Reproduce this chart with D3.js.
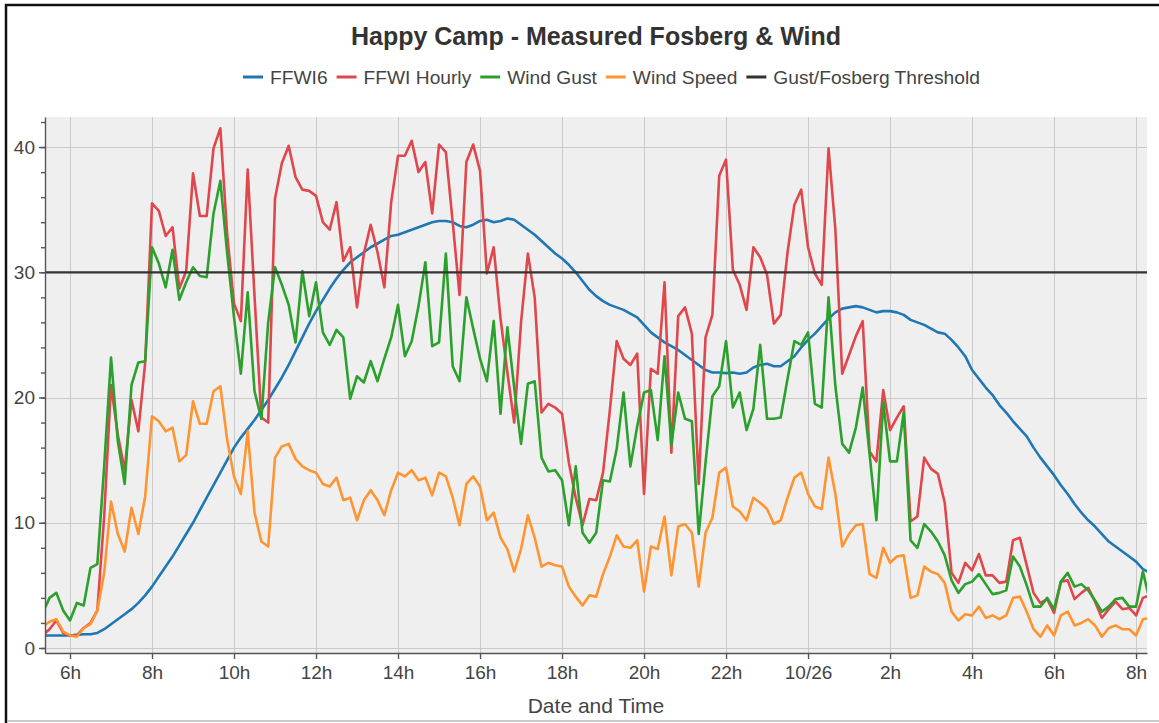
<!DOCTYPE html>
<html>
<head>
<meta charset="utf-8">
<script src="https://cdn.jsdelivr.net/npm/d3@7"></script>
<style>
  body { margin: 0; background: #fff; }
  svg { display: block; font-family: "Liberation Sans", Arial, sans-serif; }
</style>
</head>
<body>
<svg id="chart" width="1159" height="723"></svg>
<script>
// 10 minute readings starting 10/25 05:20
var startTime = new Date(2020, 9, 25, 5, 20);
var stepMinutes = 10;

var ffwi6 = [
  1.0, 1.0, 1.0, 1.0,
  1.0, 1.05, 1.1, 1.1, 1.2, 1.5,        // 6h
  1.9, 2.3, 2.7, 3.1, 3.6, 4.2,
  4.9, 5.7, 6.5, 7.3, 8.2, 9.1,         // 8h
  10.0, 11.0, 12.0, 13.0, 14.0, 15.0,
  16.0, 16.8, 17.5, 18.2, 19.0, 19.8,   // 10h
  20.7, 21.6, 22.6, 23.7, 24.8, 25.9,
  26.9, 27.8, 28.7, 29.5, 30.2, 30.8,   // 12h
  31.2, 31.6, 32.0, 32.3, 32.6, 32.9,
  33.0, 33.2, 33.4, 33.6, 33.8, 34.0,   // 14h
  34.1, 34.1, 34.0, 33.7, 33.6, 33.8,
  34.1, 34.2, 34.0, 34.1, 34.3, 34.2,   // 16h
  33.8, 33.4, 33.0, 32.5, 32.0, 31.5,
  31.1, 30.6, 30.0, 29.3, 28.6, 28.1,   // 18h
  27.7, 27.4, 27.2, 27.0, 26.7, 26.4,
  25.8, 25.2, 24.8, 24.4, 24.1, 23.8,   // 20h
  23.4, 23.0, 22.6, 22.2, 22.0, 22.0,
  21.95, 22.0, 21.9, 22.0, 22.4, 22.6,  // 22h
  22.7, 22.5, 22.5, 22.9, 23.3, 24.0,
  24.6, 25.1, 25.7, 26.3, 26.8, 27.1,   // 10/26 0h
  27.2, 27.3, 27.2, 27.0, 26.8, 26.9,
  26.9, 26.8, 26.6, 26.2, 26.0, 25.8,   // 2h
  25.5, 25.2, 25.1, 24.6, 24.0, 23.3,
  22.2, 21.5, 20.8, 20.2, 19.4, 18.8,   // 4h
  18.1, 17.5, 16.9, 16.0, 15.2, 14.5,
  13.8, 13.0, 12.3, 11.5, 10.8, 10.2,   // 6h
  9.7, 9.1, 8.5, 8.1, 7.7, 7.3,
  6.9, 6.3, 6.0                         // 8h
];

var ffwiHourly = [
  1.0, 1.5, 2.2, 1.2,
  1.0, 1.0, 1.6, 2.0, 3.0, 10.5,
  21.0, 17.0, 14.2, 19.8, 17.3, 22.8,
  35.5, 34.9, 32.9, 33.6, 28.7, 30.1,
  37.9, 34.5, 34.5, 39.9, 41.5, 33.0,
  27.5, 26.1, 38.2, 28.1, 18.4, 18.0,
  35.9, 38.7, 40.1, 37.6, 36.6, 36.5,
  36.1, 34.0, 33.4, 35.6, 30.9, 32.0,
  27.2, 31.5, 33.8, 31.6, 28.8, 35.6,
  39.3, 39.3, 40.5, 38.0, 38.8, 34.7,
  40.2, 39.6, 34.0, 28.2, 38.8, 40.2,
  38.1, 29.9, 32.0, 26.3, 22.0, 18.0,
  26.0, 31.5, 28.0, 18.8, 19.5, 19.2,
  18.7, 14.8, 12.0, 9.8, 11.9, 11.8,
  14.0, 19.0, 24.5, 23.1, 22.6, 23.5,
  12.3, 22.3, 21.9, 29.2, 15.6, 26.5,
  27.2, 25.1, 13.1, 24.8, 26.6, 37.7,
  39.0, 30.2, 29.0, 27.0, 32.0, 31.2,
  29.8, 25.9, 26.6, 31.6, 35.4, 36.6,
  32.0, 29.9, 29.0, 39.9, 33.4, 21.9,
  23.4, 24.9, 26.1, 15.7, 14.9, 20.6,
  17.4, 18.4, 19.3, 10.1, 10.5, 15.2,
  14.3, 13.9, 11.6, 6.0, 5.2, 6.8,
  6.2, 7.5, 5.8, 5.8, 5.2, 5.3,
  8.6, 8.8, 6.6, 4.4, 3.6, 3.9,
  2.8, 5.3, 5.4, 3.9, 4.4, 4.8,
  3.7, 2.4, 3.1, 3.7, 3.1, 3.2,
  2.6, 4.0, 4.2
];

var windGust = [
  2.8, 4.0, 4.4, 3.0,
  2.2, 3.6, 3.4, 6.4, 6.7, 14.5,
  23.2, 16.5, 13.1, 21.0, 22.8, 22.9,
  32.0, 30.7, 28.8, 31.8, 27.8, 29.2,
  30.4, 29.7, 29.6, 34.7, 37.3, 31.5,
  26.4, 21.9, 28.4, 20.5, 18.3, 26.0,
  30.4, 29.0, 27.4, 24.4, 30.1, 26.5,
  29.2, 25.2, 24.2, 25.4, 24.8, 19.9,
  21.7, 21.2, 22.9, 21.3, 23.1, 24.8,
  27.4, 23.3, 24.5, 27.3, 30.8, 24.1,
  24.4, 31.5, 22.5, 21.3, 28.0, 25.5,
  23.1, 21.3, 26.1, 18.7, 25.6, 20.8,
  16.3, 21.1, 21.3, 15.2, 14.1, 14.2,
  13.4, 9.8, 14.5, 9.2, 8.4, 9.2,
  13.4, 13.3, 15.9, 20.4, 14.5, 17.7,
  20.4, 20.6, 16.6, 23.3, 16.2, 20.4,
  18.3, 18.1, 9.1, 14.8, 20.1, 20.9,
  24.5, 19.2, 20.4, 17.4, 19.1, 24.2,
  18.3, 18.3, 18.4, 21.5, 24.5, 24.2,
  25.2, 19.5, 19.2, 28.0, 20.9, 16.3,
  15.6, 17.6, 20.8, 15.5, 10.2, 19.6,
  14.9, 14.9, 18.8, 8.6, 8.0, 9.9,
  9.3, 8.5, 7.4, 5.4, 4.4, 5.1,
  5.3, 5.9, 5.1, 4.3, 4.4, 4.6,
  7.3, 6.5, 5.0, 3.3, 3.3, 4.0,
  3.1, 5.3, 6.0, 4.9, 5.1, 4.6,
  3.8, 2.9, 3.3, 3.9, 4.0, 3.3,
  3.3, 6.1, 3.8
];

var windSpeed = [
  1.7, 2.1, 2.3, 1.3,
  1.0, 0.9, 1.6, 1.9, 3.0, 6.0,
  11.7, 9.1, 7.7, 11.2, 9.1, 12.1,
  18.5, 18.1, 17.3, 17.6, 14.9, 15.4,
  19.7, 17.9, 17.9, 20.5, 20.9, 16.6,
  13.7, 12.3, 17.3, 10.8, 8.5, 8.1,
  15.2, 16.1, 16.3, 15.1, 14.5, 14.2,
  14.0, 13.1, 12.9, 13.6, 11.8, 12.0,
  10.2, 11.8, 12.6, 11.8, 10.6, 12.6,
  14.0, 13.7, 14.2, 13.4, 13.6, 12.2,
  14.0, 13.7, 12.0, 9.8, 13.1, 13.7,
  12.9, 10.2, 10.8, 8.8, 7.9, 6.1,
  7.9, 10.6, 8.8, 6.5, 6.8, 6.6,
  6.5, 4.9, 4.1, 3.4, 4.2, 4.1,
  5.9, 7.3, 9.0, 8.1, 8.0, 8.6,
  4.5, 8.1, 7.9, 10.5, 5.8, 9.7,
  9.9, 9.2, 4.9, 9.2, 10.4, 14.0,
  14.4, 11.3, 10.9, 10.2, 12.0, 11.6,
  11.1, 9.9, 10.2, 12.0, 13.6, 14.0,
  12.3, 11.3, 11.1, 15.2, 12.3, 8.1,
  9.1, 9.8, 9.9, 5.9, 5.6, 8.0,
  6.8, 7.3, 7.4, 4.0, 4.2, 6.5,
  6.1, 5.9, 5.2, 2.9, 2.2, 2.7,
  2.6, 3.3, 2.4, 2.6, 2.3, 2.6,
  4.0, 4.1, 2.9, 1.5, 0.9, 1.8,
  1.0, 2.6, 2.9, 1.8, 2.0, 2.3,
  1.8, 0.9, 1.6, 1.8, 1.5, 1.5,
  1.0, 2.3, 2.4
];

var threshold = 30;

var seriesNames = ["FFWI6", "FFWI Hourly", "Wind Gust", "Wind Speed", "Gust/Fosberg Threshold"];
var seriesColors = ["#1f77b4", "#e0474c", "#2ca02c", "#ff9430", "#333333"];
var yTicks = [0, 10, 20, 30, 40];

var times = ffwi6.map(function(d, i) {
  return new Date(startTime.getTime() + i * stepMinutes * 60000);
});

var svg = d3.select("#chart");
var plotL = 45, plotR = 1147, plotT = 117, plotB = 653;

// screenshot frame
svg.append("rect").attr("width", 1159).attr("height", 723).attr("fill", "#fff");
svg.append("path").attr("d", "M6,723V5H1159").attr("fill", "none").attr("stroke", "#111").attr("stroke-width", 2.5);
svg.append("line").attr("x1", 7).attr("x2", 1159).attr("y1", 721).attr("y2", 721)
  .attr("stroke", "#bbb").attr("stroke-width", 1.5);

var x = d3.scaleTime()
  .domain([new Date(2020, 9, 25, 5, 23, 24), new Date(2020, 9, 26, 8, 16, 0)])
  .range([plotL, plotR]);

var y = d3.scaleLinear()
  .domain([-0.4, 42.4])
  .range([plotB, plotT]);

var xTicks = d3.timeHour.every(2).range(new Date(2020, 9, 25, 6), new Date(2020, 9, 26, 8, 1));
var fmtDay = d3.timeFormat("%m/%d");
function fmtTick(d) {
  return d.getHours() === 0 ? fmtDay(d) : d.getHours() + "h";
}

// plot background + grid
svg.append("rect")
  .attr("x", plotL).attr("y", plotT)
  .attr("width", plotR - plotL).attr("height", plotB - plotT)
  .attr("fill", "#efefef");

svg.append("g").selectAll("line").data(yTicks).enter().append("line")
  .attr("x1", plotL).attr("x2", plotR)
  .attr("y1", function(d){ return Math.round(y(d)) + 0.5; })
  .attr("y2", function(d){ return Math.round(y(d)) + 0.5; })
  .attr("stroke", "#c9c9c9").attr("stroke-width", 1);

svg.append("g").selectAll("line").data(xTicks).enter().append("line")
  .attr("x1", function(d){ return Math.round(x(d)) + 0.5; })
  .attr("x2", function(d){ return Math.round(x(d)) + 0.5; })
  .attr("y1", plotT).attr("y2", plotB)
  .attr("stroke", "#c9c9c9").attr("stroke-width", 1);

// lines
svg.append("clipPath").attr("id", "plotclip").append("rect")
  .attr("x", plotL).attr("y", plotT).attr("width", plotR - plotL).attr("height", plotB - plotT);

var plot = svg.append("g").attr("clip-path", "url(#plotclip)");

var line = d3.line()
  .x(function(d, i){ return x(times[i]); })
  .y(function(d){ return y(d); });

[ffwi6, ffwiHourly, windGust, windSpeed].forEach(function(s, k) {
  plot.append("path")
    .datum(s)
    .attr("d", line)
    .attr("fill", "none")
    .attr("stroke", seriesColors[k])
    .attr("stroke-width", 2.6)
    .attr("stroke-linejoin", "round");
});

plot.append("line")
  .attr("x1", plotL).attr("x2", plotR)
  .attr("y1", y(threshold)).attr("y2", y(threshold))
  .attr("stroke", seriesColors[4]).attr("stroke-width", 2.2);

// axes
var axisColor = "#555";
var yAxis = svg.append("g")
  .attr("transform", "translate(" + plotL + ",0)")
  .call(d3.axisLeft(y).tickValues(yTicks).tickSize(6).tickPadding(4).tickSizeOuter(0));
var yMinor = svg.append("g")
  .attr("transform", "translate(" + plotL + ",0)")
  .call(d3.axisLeft(y).tickValues(d3.range(0, 43, 2)).tickSize(4).tickFormat("").tickSizeOuter(0));
yMinor.select(".domain").remove();

var xAxis = svg.append("g")
  .attr("transform", "translate(0," + plotB + ")")
  .call(d3.axisBottom(x).tickValues(xTicks).tickFormat(fmtTick).tickSize(6).tickPadding(7).tickSizeOuter(0));

[yAxis, yMinor, xAxis].forEach(function(g) {
  g.selectAll("path, line").attr("stroke", axisColor).attr("stroke-width", 1.4);
  g.selectAll("text").attr("fill", "#444").style("font-size", "19px")
    .style("font-family", "'Liberation Sans', Arial, sans-serif");
});

// titles
svg.append("text")
  .attr("x", 596).attr("y", 45)
  .attr("text-anchor", "middle")
  .attr("fill", "#333")
  .style("font-size", "25px").style("font-weight", "bold")
  .text("Happy Camp - Measured Fosberg & Wind");

svg.append("text")
  .attr("x", 596).attr("y", 713)
  .attr("text-anchor", "middle")
  .attr("fill", "#444")
  .style("font-size", "21px")
  .text("Date and Time");

// legend
var legend = svg.append("g");
var lx = 243;
seriesNames.forEach(function(name, i) {
  var item = legend.append("g");
  item.append("line")
    .attr("x1", lx).attr("x2", lx + 20)
    .attr("y1", 77).attr("y2", 77)
    .attr("stroke", seriesColors[i]).attr("stroke-width", 3);
  var t = item.append("text")
    .attr("x", lx + 27).attr("y", 84)
    .attr("fill", "#444")
    .style("font-size", "19.2px")
    .text(name);
  lx += 27 + t.node().getComputedTextLength() + 9;
});
</script>
</body>
</html>
